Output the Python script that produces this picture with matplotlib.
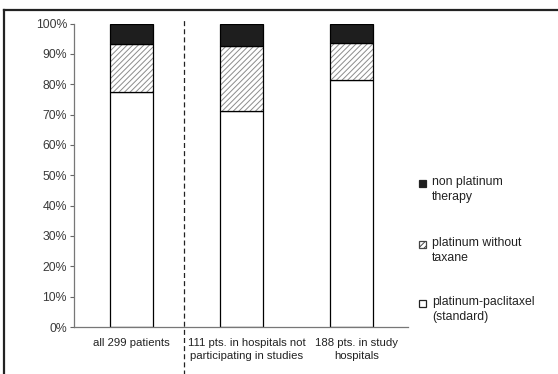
import matplotlib
matplotlib.use("Agg")
import matplotlib.pyplot as plt
from matplotlib.patches import Rectangle
from matplotlib.lines import Line2D
from matplotlib.transforms import ScaledTranslation

plt.rcParams['font.family'] = ['Liberation Sans', 'DejaVu Sans']
plt.rcParams['hatch.linewidth'] = 0.7

categories = ["all 299 patients",
              "111 pts. in hospitals not\nparticipating in studies",
              "188 pts. in study\nhospitals"]
paclitaxel = [77.3, 71.3, 81.4]      # platinum-paclitaxel (standard)
no_taxane = [15.8, 21.4, 12.3]       # platinum without taxane
non_platinum = [6.9, 7.3, 6.3]       # non platinum therapy
legend_labels = ["non platinum\ntherapy", "platinum without\ntaxane",
                 "platinum-paclitaxel\n(standard)"]
yticks = list(range(0, 101, 10))

fig = plt.figure(figsize=(5.58, 3.74), dpi=100)
ax = fig.add_axes([74/558, 1-327/374, (408-74)/558, (327-23.5)/374])

x = list(range(len(categories)))
w = 0.39
bottom2 = paclitaxel
bottom3 = [a + b for a, b in zip(paclitaxel, no_taxane)]
ax.bar(x, paclitaxel, w, color='white', edgecolor='black', linewidth=0.9)
# hatch in grey, outline drawn separately in black
ax.bar(x, no_taxane, w, bottom=bottom2, color='white', edgecolor='#8c8c8c',
       linewidth=0, hatch='//////')
ax.bar(x, no_taxane, w, bottom=bottom2, facecolor='none', edgecolor='black',
       linewidth=0.9)
ax.bar(x, non_platinum, w, bottom=bottom3, color='#1e1e1e', edgecolor='black',
       linewidth=0.9)

ax.set_xlim(-0.52, 2.51)
ax.set_ylim(0, 100)
ax.set_yticks(yticks)
ax.set_yticklabels([f"{t}%" for t in yticks], fontsize=8.8, color='#3a3a3a')
ax.tick_params(axis='y', length=3, width=0.8, color='#666666', pad=2)
ax.set_xticks(x)
ax.set_xticklabels(categories, fontsize=8.2, color='#222222', linespacing=1.35)
ax.tick_params(axis='x', length=0, pad=8)
# the two right-hand labels sit slightly right of their bars in the reference
for lbl in ax.get_xticklabels()[1:]:
    lbl.set_transform(lbl.get_transform() + ScaledTranslation(5/100, 0, fig.dpi_scale_trans))
for s in ['top', 'right']:
    ax.spines[s].set_visible(False)
ax.spines['left'].set_color('#777777')
ax.spines['bottom'].set_color('#777777')
ax.spines['left'].set_linewidth(0.9)
ax.spines['bottom'].set_linewidth(0.9)

# dashed separator
ax.axvline(0.476, ymin=-0.2, ymax=1.01, color='#222222', linestyle=(0, (4, 2.5)),
           linewidth=0.9, clip_on=False)

# legend (manual, handles aligned with first text line)
styles = [dict(facecolor='#1e1e1e', hatch=None, ec='#222222'),
          dict(facecolor='white', hatch='//////', ec='#444444'),
          dict(facecolor='white', hatch=None, ec='#222222')]
ys = [183, 244, 303]
for lab, st, yy in zip(legend_labels, styles, ys):
    r = Rectangle((419/558, 1-(yy+3.5)/374), 7/558, 7/374, transform=fig.transFigure,
                  facecolor=st['facecolor'], edgecolor=st['ec'], linewidth=0.9,
                  hatch=st['hatch'])
    fig.patches.append(r)
    fig.text(432/558, 1-(yy-7)/374, lab, fontsize=8.8, color='#222222',
             va='top', ha='left', linespacing=1.3)

# outer frame (top and left visible)
fig.add_artist(Line2D([4/558, 1], [1-10/374, 1-10/374], transform=fig.transFigure,
                      color='#222222', linewidth=1.6))
fig.add_artist(Line2D([4/558, 4/558], [0, 1-10/374], transform=fig.transFigure,
                      color='#222222', linewidth=1.6))

fig.savefig("out.png", dpi=100)
